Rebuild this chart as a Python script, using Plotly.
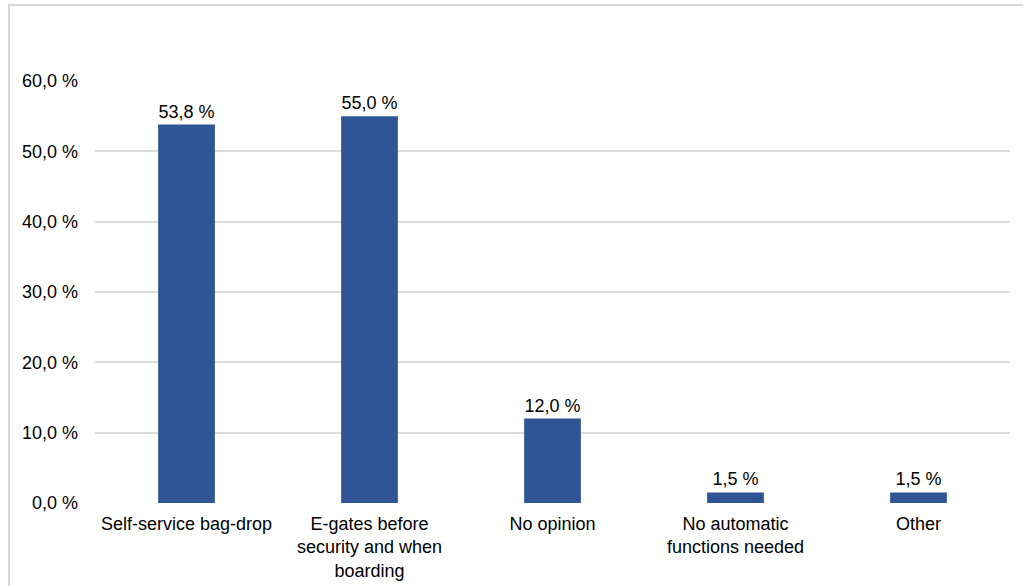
import plotly.graph_objects as go

categories = [
    "Self-service bag-drop",
    "E-gates before<br>security and when<br>boarding",
    "No opinion",
    "No automatic<br>functions needed",
    "Other",
]
values = [53.8, 55.0, 12.0, 1.5, 1.5]
tick_values = [0, 10, 20, 30, 40, 50, 60]
tick_labels = ["0,0 %", "10,0 %", "20,0 %", "30,0 %", "40,0 %", "50,0 %", "60,0 %"]

def pct(v):
    return f"{v:.1f}".replace(".", ",") + " %"

FONT = "Liberation Sans, Arial, sans-serif"
W, H = 1023, 586
ML, MR, MT, MB = 95, 13, 81, 83
pw, ph = W - ML - MR, H - MT - MB

fig = go.Figure(
    go.Bar(
        x=categories,
        y=values,
        text=[pct(v) for v in values],
        textposition="outside",
        textfont=dict(family=FONT, size=18, color="#000000"),
        cliponaxis=False,
        marker=dict(color="#2F5597", line=dict(width=0)),
        hoverinfo="skip",
    )
)

# light frame: top and left edges of the chart area
fig.add_shape(
    type="rect", xref="paper", yref="paper",
    x0=(9 - ML) / pw, x1=(W + 20 - ML) / pw,
    y0=-(MB + 20) / ph, y1=(H - MB - 5) / ph,
    line=dict(color="#d9d9d9", width=2), fillcolor="rgba(0,0,0,0)",
    layer="below",
)

fig.update_layout(
    width=W, height=H,
    margin=dict(l=ML, r=MR, t=MT, b=MB, pad=0),
    paper_bgcolor="white", plot_bgcolor="white",
    bargap=0.69,
    showlegend=False,
    font=dict(family=FONT, size=18, color="#000000"),
    xaxis=dict(
        showgrid=False, showline=False, zeroline=False, automargin=False,
        ticks="", tickfont=dict(size=18), ticklabelstandoff=8,
    ),
    yaxis=dict(
        range=[0, 60], automargin=False,
        tickvals=tick_values, ticktext=tick_labels,
        showgrid=True, gridcolor="#dcdcdc", gridwidth=2,
        zeroline=False, showline=False, ticks="",
        tickfont=dict(size=18), ticklabelstandoff=16,
    ),
)

fig.write_html("out.html")
